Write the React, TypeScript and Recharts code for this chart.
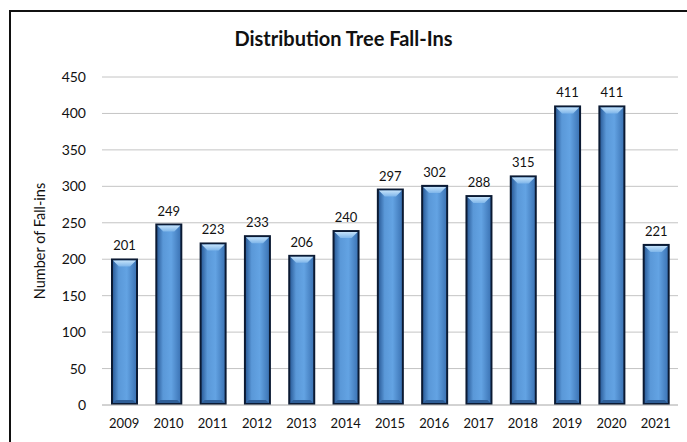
import { Bar, BarChart, CartesianGrid, LabelList, XAxis, YAxis, Label } from "recharts";

const YEARS = ["2009", "2010", "2011", "2012", "2013", "2014", "2015", "2016", "2017", "2018", "2019", "2020", "2021"];
const FALL_INS = [201, 249, 223, 233, 206, 240, 297, 302, 288, 315, 411, 411, 221];
const Y_TICKS = [0, 50, 100, 150, 200, 250, 300, 350, 400, 450];

const FONT = "Lato, 'Open Sans', sans-serif";
const GRID = "#c4c4c4";

const data = YEARS.map((year, i) => ({ year, value: FALL_INS[i] }));

// bevelled bar like the Excel preset: dark rim, shaded body, light top chevron
function BevelBar(props: any) {
  const { x, y, width, height } = props;
  if (!height || height <= 0) return null;
  const r = 2;
  const b = 6;
  return (
    <g>
      <rect x={x} y={y} width={width} height={height} fill="#0b1a33" />
      <rect x={x + r} y={y + r} width={width - 2 * r} height={height - 2 * r} fill="url(#barBody)" />
      <polygon
        points={`${x + r},${y + r} ${x + width - r},${y + r} ${x + width - r - b},${y + r + b} ${x + r + b},${y + r + b}`}
        fill="url(#barTop)"
      />
      <polygon
        points={`${x + r},${y + height - r} ${x + width - r},${y + height - r} ${x + width - r - 3},${y + height - r - 3} ${x + r + 3},${y + height - r - 3}`}
        fill="#2f5f98"
      />
    </g>
  );
}

export default function App() {
  return (
    <div style={{ position: "absolute", left: 0, top: 0, width: 687, height: 442, overflow: "hidden", background: "#fff" }}>
      <div
        style={{
          position: "absolute",
          left: 9,
          top: 10,
          width: 700,
          height: 460,
          border: "2px solid #111",
          boxSizing: "border-box",
        }}
      />
      <div
        style={{
          position: "absolute",
          left: 0,
          top: 26,
          width: 687,
          textAlign: "center",
          fontFamily: FONT,
          fontWeight: 700,
          fontSize: 20,
          color: "#111",
        }}
      >
        Distribution Tree Fall-Ins
      </div>
      <div style={{ position: "absolute", left: 0, top: 0 }}>
        <BarChart width={687} height={442} data={data} margin={{ top: 77, right: 9, bottom: 0, left: 0 }}>
          <defs>
            <linearGradient id="barBody" x1="0" y1="0" x2="1" y2="0">
              <stop offset="0%" stopColor="#2d5f9c" />
              <stop offset="25%" stopColor="#5a98d8" />
              <stop offset="60%" stopColor="#63a3e3" />
              <stop offset="100%" stopColor="#3d75b6" />
            </linearGradient>
            <linearGradient id="barTop" x1="0" y1="0" x2="0" y2="1">
              <stop offset="0%" stopColor="#c4e2fa" />
              <stop offset="100%" stopColor="#7fb6ea" />
            </linearGradient>
          </defs>
          <CartesianGrid stroke={GRID} vertical={false} />
          <XAxis
            dataKey="year"
            height={37}
            tickSize={0}
            tickMargin={14}
            axisLine={{ stroke: GRID }}
            tick={{ fill: "#111", fontSize: 13, fontFamily: FONT }}
            interval={0}
          />
          <YAxis
            width={102}
            domain={[0, 450]}
            ticks={Y_TICKS}
            tickSize={0}
            tickMargin={16}
            axisLine={false}
            tick={{ fill: "#111", fontSize: 14, fontFamily: FONT }}
          >
            <Label
              value="Number of Fall-ins"
              angle={-90}
              position="insideLeft"
              offset={40}
              style={{ textAnchor: "middle", fill: "#111", fontSize: 14.5, fontFamily: FONT }}
            />
          </YAxis>
          <Bar dataKey="value" barSize={27} shape={<BevelBar />} isAnimationActive={false}>
            <LabelList dataKey="value" position="top" offset={8} style={{ fill: "#111", fontSize: 13, fontFamily: FONT }} />
          </Bar>
        </BarChart>
      </div>
    </div>
  );
}
